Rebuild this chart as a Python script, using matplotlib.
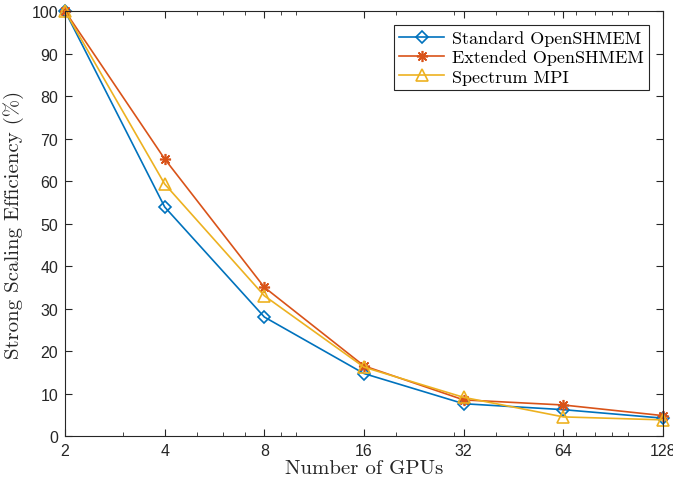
import matplotlib
matplotlib.use("Agg")
import matplotlib.pyplot as plt
from matplotlib.ticker import FixedLocator, NullFormatter, LogLocator

gpus = [2, 4, 8, 16, 32, 64, 128]
standard = [100, 53.9, 28.0, 14.7, 7.6, 6.2, 4.2]
extended = [100, 65.2, 35.0, 16.5, 8.5, 7.3, 4.8]
spectrum = [100, 59.3, 33.0, 16.2, 9.1, 4.5, 3.8]
series_names = ["Standard OpenSHMEM", "Extended OpenSHMEM", "Spectrum MPI"]
x_ticklabels = ["2", "4", "8", "16", "32", "64", "128"]
y_ticks = list(range(0, 101, 10))

serif = ["cmr10", "DejaVu Serif"]
sans = ["Liberation Sans", "DejaVu Sans"]
axcol = "#262626"

fig = plt.figure(figsize=(6.73, 4.89), dpi=100)
ax = fig.add_axes([0.0966, 0.1063, 0.8886, 0.869])

ax.plot(gpus, standard, color="#0072BD", lw=1.2, marker="D", ms=6.5,
        mfc="none", mew=1.2, label=series_names[0], clip_on=False)
ax.plot(gpus, extended, color="#D95319", lw=1.2, marker=(8, 2, 0), ms=8,
        mew=1.2, label=series_names[1], clip_on=False)
ax.plot(gpus, spectrum, color="#EDB120", lw=1.2, marker="^", ms=8,
        mfc="none", mew=1.2, label=series_names[2], clip_on=False)

ax.set_xscale("log", base=2)
ax.set_xlim(2, 128)
ax.set_ylim(0, 100)
ax.xaxis.set_major_locator(FixedLocator(gpus))
ax.set_xticklabels(x_ticklabels)
ax.xaxis.set_minor_locator(LogLocator(base=10, subs=range(1, 10), numticks=20))
ax.xaxis.set_minor_formatter(NullFormatter())
ax.set_yticks(y_ticks)
ax.set_yticklabels([str(v) for v in y_ticks])

for lab in ax.get_xticklabels() + ax.get_yticklabels():
    lab.set_family(sans)
    lab.set_fontsize(11.5)
    lab.set_color(axcol)

ax.tick_params(which="both", direction="in", top=True, right=True, color=axcol)
ax.tick_params(which="major", length=5, width=0.8, pad=5)
ax.tick_params(which="minor", length=3, width=0.6)
for s in ax.spines.values():
    s.set_color(axcol)
    s.set_linewidth(0.8)

ax.set_xlabel("Number of GPUs", family=serif, fontsize=15, color=axcol, labelpad=1)
ax.set_ylabel("Strong Scaling Efficiency (%)", family=serif, fontsize=15,
              color=axcol, labelpad=5)

leg = ax.legend(loc="upper right", prop={"family": serif, "size": 13},
                fancybox=False, edgecolor=axcol, framealpha=1,
                borderaxespad=0.75, handlelength=2.5, labelspacing=0.2,
                borderpad=0.3, handletextpad=0.45)
leg.get_frame().set_linewidth(0.8)

fig.savefig("out.png", dpi=100)
